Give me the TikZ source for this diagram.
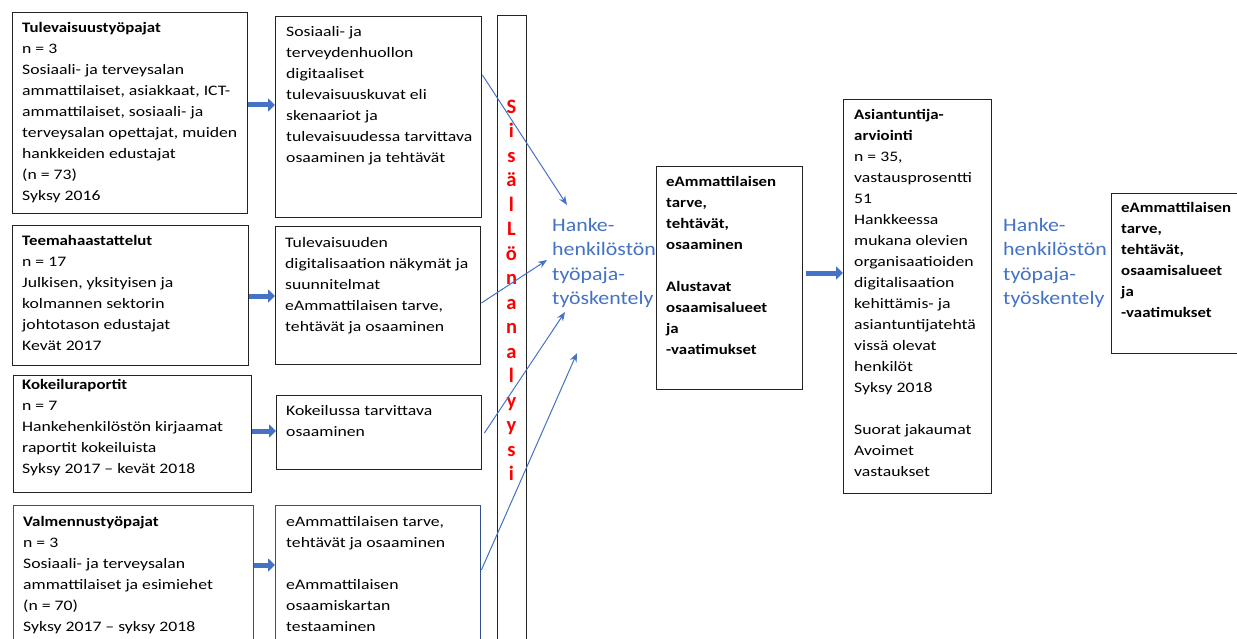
\documentclass[tikz,border=0pt]{standalone}
\usepackage{fontspec}
\setmainfont{Carlito}[FakeStretch=1.22, BoldFeatures={FakeStretch=1.16}]
\newfontfamily\bluefont{Carlito}[FakeStretch=1.15]
\newfontfamily\plainfont{Carlito}
\usetikzlibrary{arrows.meta}
\definecolor{boxline}{RGB}{35,35,35}
\definecolor{bluebox}{RGB}{47,82,143}
\definecolor{arrowblue}{RGB}{68,114,196}
\definecolor{redtxt}{RGB}{255,0,0}
\newcommand{\fl}{\rule{0pt}{11pt}}
\tikzset{
  box/.style={draw=boxline, line width=1.4pt, anchor=north west, inner sep=0pt},
  bbox/.style={box, draw=bluebox},
  txt/.style={anchor=north west, align=left, inner sep=0pt, text=black, font=\fontsize{14.5}{21}\selectfont},
  btxt/.style={txt, font=\fontsize{14.5}{21}\selectfont\bfseries},
  bluetxt/.style={anchor=north west, align=left, inner sep=0pt, text=arrowblue, font=\bluefont\fontsize{19}{24.5}\selectfont},
  redbar/.style={anchor=north, align=center, inner sep=0pt, text=redtxt, font=\plainfont\fontsize{20.5}{24.5}\selectfont\bfseries},
  bigarrow/.style={draw=arrowblue, line width=5pt, -{Triangle[length=7pt,width=13pt]}},
  thinarrow/.style={draw=arrowblue, line width=1pt, -{Stealth[length=9pt,width=7pt]}},
}
\begin{document}
\begin{tikzpicture}[x=1pt,y=-1pt]
\useasboundingbox (0,0) rectangle (1237,639);
\fill[white] (0,0) rectangle (1237,639);
% left column boxes
\node[box, minimum width=235pt, minimum height=201pt] (L1) at (12,12) {};
\node[box, minimum width=236pt, minimum height=140pt] (L2) at (12,225) {};
\node[box, minimum width=238pt, minimum height=117pt] (L3) at (13,375) {};
\node[bbox, minimum width=240pt, minimum height=200pt] (L4) at (13,505) {};
% middle boxes
\node[box, minimum width=206pt, minimum height=201pt] (M1) at (275,16) {};
\node[box, minimum width=205pt, minimum height=138pt] (M2) at (275,226) {};
\node[box, minimum width=205pt, minimum height=74pt] (M3) at (276,395) {};
\node[bbox, minimum width=205pt, minimum height=200pt] (M4) at (275,505) {};
% vertical bar
\node[box, minimum width=29pt, minimum height=700pt] (bar) at (497,15) {};
% right boxes
\node[box, minimum width=146pt, minimum height=223pt] (C) at (656,166) {};
\node[box, minimum width=148pt, minimum height=394pt] (D) at (843,99) {};
\node[box, minimum width=200pt, minimum height=160pt] (E) at (1111,193) {};

% texts
\node[txt] (tL1) at (22,21.5) {\fl\textbf{Tulevaisuustyöpajat}\\ n = 3\\ Sosiaali- ja terveysalan\\ ammattilaiset, asiakkaat, ICT-\\ ammattilaiset, sosiaali- ja\\ terveysalan opettajat, muiden\\ hankkeiden edustajat\\ (n = 73)\\ Syksy 2016};
\node[txt] (tL2) at (22,234) {\fl\textbf{Teemahaastattelut}\\ n = 17\\ Julkisen, yksityisen ja\\ kolmannen sektorin\\ johtotason edustajat\\ Kevät 2017};
\node[txt] (tL3) at (22,378.5) {\fl\textbf{Kokeiluraportit}\\ n = 7\\ Hankehenkilöstön kirjaamat\\ raportit kokeiluista\\ Syksy 2017 – kevät 2018};
\node[txt] (tL4) at (23,515.5) {\fl\textbf{Valmennustyöpajat}\\ n = 3\\ Sosiaali- ja terveysalan\\ ammattilaiset ja esimiehet\\ (n = 70)\\ Syksy 2017 – syksy 2018};
\node[txt] (tM1) at (286,25.5) {\fl Sosiaali- ja\\ terveydenhuollon\\ digitaaliset\\ tulevaisuuskuvat eli\\ skenaariot ja\\ tulevaisuudessa tarvittava\\ osaaminen ja tehtävät};
\node[txt] (tM2) at (285,236.5) {\fl Tulevaisuuden\\ digitalisaation näkymät ja\\ suunnitelmat\\ eAmmattilaisen tarve,\\ tehtävät ja osaaminen};
\node[txt] (tM3) at (286,404.5) {\fl Kokeilussa tarvittava\\ osaaminen};
\node[txt] (tM4) at (286,515.5) {\fl eAmmattilaisen tarve,\\ tehtävät ja osaaminen\\[21pt] eAmmattilaisen\\ osaamiskartan\\ testaaminen};
\node[btxt] (tC) at (666,175.5) {\fl eAmmattilaisen\\ tarve,\\ tehtävät,\\ osaaminen\\[21pt] Alustavat\\ osaamisalueet\\ ja\\ -vaatimukset};
\node[txt] (tD) at (854,108.5) {\fl\textbf{Asiantuntija-}\\ \textbf{arviointi}\\ n = 35,\\ vastausprosentti\\ 51\\ Hankkeessa\\ mukana olevien\\ organisaatioiden\\ digitalisaation\\ kehittämis- ja\\ asiantuntijatehtä\\ vissä olevat\\ henkilöt\\ Syksy 2018\\[21pt] Suorat jakaumat\\ Avoimet\\ vastaukset};
\node[btxt] (tE) at (1121,201.5) {\fl eAmmattilaisen\\ tarve,\\ tehtävät,\\ osaamisalueet\\ ja\\ -vaatimukset};

\node[bluetxt] (H1) at (552,217) {\rule{0pt}{14pt}Hanke-\\ henkilöstön\\ työpaja-\\ työskentely};
\node[bluetxt] (H2) at (1003,217) {\rule{0pt}{14pt}Hanke-\\ henkilöstön\\ työpaja-\\ työskentely};

\node[redbar] (sis) at (511.5,99) {\rule{0pt}{14pt}S\\ i\\ s\\ ä\\ l\\ L\\ ö\\ n\\ a\\ n\\ a\\ l\\ y\\ y\\ s\\ i};

% thick arrows
\draw[bigarrow] (L1.east |- 0,105) -- (M1.west |- 0,105);
\draw[bigarrow] (L2.east |- 0,296) -- (M2.west |- 0,296);
\draw[bigarrow] (L3.east |- 0,431) -- (M3.west |- 0,431);
\draw[bigarrow] (L4.east |- 0,565) -- (M4.west |- 0,565);
\draw[bigarrow] ([xshift=3pt]C.east |- 0,273) -- (D.west |- 0,273);

% thin arrows
\coordinate (e1) at (567,205);
\coordinate (e2) at (547,260);
\coordinate (e3) at (565,312);
\coordinate (e4) at (577,353);
\draw[thinarrow] (M1.east |- 0,75) -- (e1);
\draw[thinarrow] (M2.east |- 0,303) -- (e2);
\draw[thinarrow] ([xshift=2pt]M3.east |- 0,433) -- (e3);
\draw[thinarrow] (M4.east |- 0,570) -- (e4);
\end{tikzpicture}
\end{document}
